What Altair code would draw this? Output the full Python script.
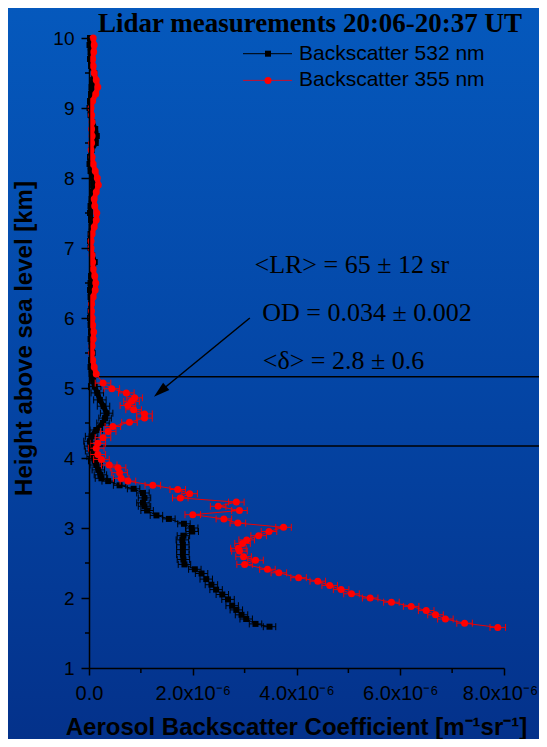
import altair as alt
import pandas as pd

# ---------------- data (backscatter in units of 1e-6 m^-1 sr^-1, height in km) -------------
BLK_UP_H = [10.0, 9.9, 9.8, 9.7, 9.6, 9.5, 9.4, 9.3, 9.2, 9.1,
            9.0, 8.9, 8.8, 8.7, 8.6, 8.5, 8.4, 8.3, 8.2, 8.1,
            8.0, 7.9, 7.8, 7.7, 7.6, 7.5, 7.4, 7.3, 7.2, 7.1,
            7.0, 6.9, 6.8, 6.7, 6.6, 6.5, 6.4, 6.3, 6.2, 6.1,
            6.0, 5.9, 5.8, 5.7, 5.6, 5.5, 5.4, 5.3, 5.2, 5.1]
BLK_UP_V = [0.02, 0.01, 0.03, 0.02, 0.04, 0.10, 0.08, 0.05, 0.04, 0.02,
            0.01, 0.03, 0.06, 0.12, 0.15, 0.13, 0.05, 0.02, 0.01, 0.03,
            0.06, 0.08, 0.07, 0.05, 0.03, 0.02, 0.04, 0.05, 0.03, 0.02,
            0.03, 0.06, 0.11, 0.07, 0.04, 0.03, 0.02, 0.03, 0.04, 0.03,
            0.02, 0.03, 0.04, 0.03, 0.05, 0.07, 0.04, 0.03, 0.05, 0.08]
BLK_LO_H = [5.02, 4.93, 4.83, 4.74, 4.64, 4.57, 4.50, 4.40, 4.31, 4.24,
            4.17, 4.10, 4.02, 3.96, 3.90, 3.83, 3.76, 3.71, 3.67, 3.61,
            3.56, 3.50, 3.43, 3.36, 3.31, 3.25, 3.18, 3.13, 3.06, 3.00,
            2.95, 2.89, 2.83, 2.76, 2.69, 2.62, 2.55, 2.48, 2.41, 2.35,
            2.27, 2.19, 2.12, 2.05, 1.98, 1.89, 1.83, 1.76, 1.70, 1.63, 1.59]
BLK_LO_V = [0.11, 0.16, 0.21, 0.28, 0.34, 0.31, 0.27, 0.14, 0.05, 0.02,
            0.03, 0.05, 0.08, 0.11, 0.14, 0.18, 0.22, 0.24, 0.37, 0.59,
            0.86, 1.04, 1.07, 1.04, 1.07, 1.12, 1.30, 1.54, 1.83, 1.98,
            1.99, 1.82, 1.80, 1.81, 1.81, 1.81, 1.82, 1.84, 2.04, 2.17,
            2.26, 2.36, 2.45, 2.57, 2.68, 2.76, 2.84, 2.94, 3.03, 3.21, 3.48]
BLK_ERR = 0.12

RED_UP_H = [10.0, 9.9, 9.8, 9.7, 9.6, 9.5, 9.4, 9.3, 9.2, 9.1,
            9.0, 8.9, 8.8, 8.7, 8.6, 8.5, 8.4, 8.3, 8.2, 8.1,
            8.0, 7.9, 7.8, 7.7, 7.6, 7.5, 7.4, 7.3, 7.2, 7.1,
            7.0, 6.9, 6.8, 6.7, 6.6, 6.5, 6.4, 6.3, 6.2, 6.1,
            6.0, 5.9, 5.8, 5.7, 5.6, 5.5, 5.4, 5.3, 5.2]
RED_UP_V = [0.08, 0.10, 0.09, 0.07, 0.08, 0.10, 0.14, 0.17, 0.13, 0.07,
            0.04, 0.05, 0.06, 0.05, 0.06, 0.05, 0.04, 0.06, 0.08, 0.12,
            0.16, 0.18, 0.14, 0.10, 0.11, 0.15, 0.14, 0.10, 0.06, 0.04,
            0.04, 0.06, 0.07, 0.08, 0.11, 0.13, 0.12, 0.08, 0.05, 0.05,
            0.06, 0.07, 0.09, 0.08, 0.06, 0.05, 0.07, 0.10, 0.14]
RED_LO_H = [5.07, 4.99, 4.93, 4.86, 4.81, 4.75, 4.69, 4.63, 4.57, 4.51,
            4.45, 4.38, 4.29, 4.21, 4.14, 4.05, 3.98, 3.90, 3.86, 3.79,
            3.71, 3.67, 3.61, 3.55, 3.49, 3.43, 3.37, 3.31, 3.25, 3.19,
            3.13, 3.07, 3.01, 2.95, 2.89, 2.83, 2.78, 2.71, 2.67, 2.59,
            2.54, 2.48, 2.41, 2.36, 2.29, 2.24, 2.18, 2.12, 2.06, 2.00,
            1.94, 1.88, 1.82, 1.76, 1.70, 1.64, 1.58]
RED_LO_V = [0.27, 0.44, 0.72, 0.88, 0.82, 0.75, 0.86, 1.07, 1.07, 0.78,
            0.46, 0.37, 0.27, 0.17, 0.14, 0.17, 0.24, 0.39, 0.56, 0.59,
            0.62, 0.75, 1.23, 1.71, 1.94, 1.76, 2.84, 2.49, 2.90, 2.00,
            2.60, 2.87, 3.75, 3.47, 3.27, 3.04, 2.96, 2.88, 2.90, 2.98,
            3.21, 3.00, 3.44, 3.66, 4.04, 4.41, 4.64, 4.86, 5.06, 5.42,
            5.83, 6.21, 6.50, 6.68, 6.87, 7.24, 7.88]
RED_ERR = 0.15

LAYER_H = [5.16, 4.17]
Y_TICKS = [1, 2, 3, 4, 5, 6, 7, 8, 9, 10]
Y_MINOR = [1.5, 2.5, 3.5, 4.5, 5.5, 6.5, 7.5, 8.5, 9.5]
X_TICKS = [0, 2, 4, 6, 8]
X_MINOR = [1, 3, 5, 7]

ANNOT_TEXT = ["<LR> = 65 \u00b1 12 sr", "OD = 0.034 \u00b1 0.002", "<\u03b4>  = 2.8 \u00b1 0.6"]
ANNOT_V = [3.19, 3.34, 3.35]
ANNOT_H = [6.65, 5.96, 5.27]
ARROW = dict(v=3.10, h=6.00, v2=1.37, h2=4.95)

TITLE = "Lidar measurements 20:06-20:37 UT"
X_TITLE = "Aerosol Backscatter Coefficient [m\u207b\u00b9sr\u207b\u00b9]"
Y_TITLE = "Height above sea level [km]"
LEGEND = ["Backscatter 532 nm", "Backscatter 355 nm"]

# ---------------- build tables -------------
W, H = 415, 630
SANS = "Liberation Sans"
SERIF = "Liberation Serif"
THICK_BELOW = {"blk": 3.70, "red": 5.15}


def profile(hu, vu, hl, vl, cut):
    h = hu + hl
    v = vu + vl
    return pd.DataFrame({"h": h, "v": v, "i": list(range(len(h))),
                         "dense": [x >= cut for x in h]})


def errs(hl, vl, e):
    return pd.DataFrame({"h": hl, "lo": [x - e for x in vl], "hi": [x + e for x in vl]})


def caps(hl, vl, e):
    return pd.DataFrame({"h": hl + hl, "v": [x - e for x in vl] + [x + e for x in vl]})


blk = profile(BLK_UP_H, BLK_UP_V, BLK_LO_H, BLK_LO_V, THICK_BELOW["blk"])
red = profile(RED_UP_H, RED_UP_V, RED_LO_H, RED_LO_V, THICK_BELOW["red"])
blk_e = errs(BLK_LO_H, BLK_LO_V, BLK_ERR)
red_e = errs(RED_LO_H, RED_LO_V, RED_ERR)
blk_c = caps(BLK_LO_H, BLK_LO_V, BLK_ERR)
red_c = caps(RED_LO_H, RED_LO_V, RED_ERR)

xsc = alt.Scale(domain=[0, 8], nice=False, zero=False)
ysc = alt.Scale(domain=[1, 10], nice=False, zero=False)

X_AX = alt.Axis(
    values=X_TICKS, grid=False, title=X_TITLE, zindex=2,
    labelExpr="datum.value == 0 ? '0.0' : format(datum.value, '.1f') + 'x10\u207b\u2076'",
    tickSize=7, tickWidth=1.5, tickColor="black", domainColor="black", domainWidth=1.5,
    labelFont=SANS, labelFontSize=20, labelColor="black", labelPadding=8,
    labelOffset={"condition": {"test": "datum.value == 8", "value": -4}, "value": 0},
    labelFlush=False, labelOverlap=False,
    titleFont=SANS, titleFontSize=24, titleFontWeight="bold", titleColor="black",
    titleX=207, titleY=66, titleBaseline="alphabetic", titleAlign="center",
)
Y_AX = alt.Axis(
    values=Y_TICKS, grid=False, title=Y_TITLE, format="d", zindex=2,
    tickSize=8, tickWidth=1.5, tickColor="black", domainColor="black", domainWidth=1.5,
    labelFont=SANS, labelFontSize=19, labelColor="black", labelPadding=7,
    labelFlush=False, labelOverlap=False,
    titleFont=SANS, titleFontSize=24, titleFontWeight="bold", titleColor="black",
    titleX=-58, titleY=300, titleAngle=-90, titleAlign="center", titleBaseline="alphabetic",
)


def X(f="v"):
    return alt.X(f"{f}:Q", scale=xsc, axis=X_AX)


def Y(f="h"):
    return alt.Y(f"{f}:Q", scale=ysc, axis=Y_AX)


one = pd.DataFrame({"a": [0]})

grad = {
    "gradient": "linear", "x1": 0, "y1": 0, "x2": 0, "y2": 1,
    "stops": [
        {"offset": 0, "color": "#0559BD"},
        {"offset": 0.5, "color": "#0446A6"},
        {"offset": 1, "color": "#04318A"},
    ],
}
bg = alt.Chart(one).mark_rect(color=grad).encode(
    x=alt.value(-90), x2=alt.value(460), y=alt.value(-40), y2=alt.value(710)
)

ymin = alt.Chart(pd.DataFrame({"h": Y_MINOR})).mark_rule(color="black", strokeWidth=1.5).encode(
    y=Y(), x=alt.value(0), x2=alt.value(-4)
)
xmin = alt.Chart(pd.DataFrame({"v": X_MINOR})).mark_rule(color="black", strokeWidth=1.5).encode(
    x=X(), y=alt.value(H), y2=alt.value(H + 5)
)

layers_h = alt.Chart(pd.DataFrame({"h": LAYER_H})).mark_rule(color="black", strokeWidth=1.5).encode(
    y=Y(), x=alt.value(0), x2=alt.value(460)
)

cap_shape = "M0,-1L0,1"


def series(df, e_df, c_df, color, line_color, shape, size):
    band = alt.Chart(df).transform_filter("datum.dense").mark_line(
        color=color, strokeWidth=5, strokeCap="round", strokeJoin="round"
    ).encode(x=X(), y=Y(), order=alt.Order("i:Q"))
    line = alt.Chart(df).mark_line(color=line_color, strokeWidth=1).encode(
        x=X(), y=Y(), order=alt.Order("i:Q")
    )
    ebar = alt.Chart(e_df).mark_rule(color=line_color, strokeWidth=1).encode(
        x=X("lo"), x2="hi:Q", y=Y()
    )
    cap = alt.Chart(c_df).mark_point(shape=cap_shape, filled=False, color=line_color,
                                     strokeWidth=1, size=49, opacity=1).encode(x=X(), y=Y())
    pts = alt.Chart(df).mark_point(shape=shape, filled=True, color=color, size=size,
                                   opacity=1).encode(x=X(), y=Y())
    return [band, line, ebar, cap, pts]


blk_layers = series(blk, blk_e, blk_c, "black", "black", "square", 36)
red_layers = series(red, red_e, red_c, "#FF0000", "#F00000", "circle", 49)

annot = alt.Chart(pd.DataFrame({"v": ANNOT_V, "h": ANNOT_H, "t": ANNOT_TEXT})).mark_text(
    font=SERIF, fontSize=26, color="black", align="left", baseline="alphabetic"
).encode(x=X(), y=Y(), text="t:N")

arrow_df = pd.DataFrame({k: [val] for k, val in ARROW.items()})
arrow_line = alt.Chart(arrow_df).mark_rule(color="black", strokeWidth=1.5).encode(
    x=X(), y=Y(), x2="v2:Q", y2="h2:Q"
)
arrow_head = alt.Chart(arrow_df).mark_point(
    shape="M0,-1L0.6,1L-0.6,1Z", filled=True, color="black", size=256, angle=230, opacity=1
).encode(x=X("v2"), y=Y("h2"))

title = alt.Chart(one).mark_text(
    text=TITLE, font=SERIF, fontSize=27, fontWeight="bold", color="black",
    align="center", baseline="alphabetic"
).encode(x=alt.value(221), y=alt.value(-6))

# legend
leg = []
rows = [(15.7, "black", "black", "square", 36, LEGEND[0]),
        (42.4, "#FF0000", "#C8102E", "circle", 49, LEGEND[1])]
for yy, mc, lc, shp, sz, lab in rows:
    leg.append(alt.Chart(one).mark_rule(color=lc, strokeWidth=1).encode(
        x=alt.value(154), x2=alt.value(203), y=alt.value(yy)))
    leg.append(alt.Chart(one).mark_point(shape=shp, filled=True, color=mc, size=sz, opacity=1).encode(
        x=alt.value(179), y=alt.value(yy)))
    leg.append(alt.Chart(one).mark_text(
        text=lab, font=SANS, fontSize=21, color="black", align="left", baseline="middle"
    ).encode(x=alt.value(210), y=alt.value(yy)))

chart = alt.layer(
    bg, ymin, xmin, layers_h, *blk_layers, *red_layers, annot, arrow_line, arrow_head, title, *leg
).properties(
    width=W, height=H,
    padding={"left": 81, "top": 30, "right": 35, "bottom": 71},
    autosize=alt.AutoSizeParams(type="none"),
).configure(background="#0446A6").configure_view(stroke=None)

chart.save("out.html", embed_options={"renderer": "svg", "actions": False})
